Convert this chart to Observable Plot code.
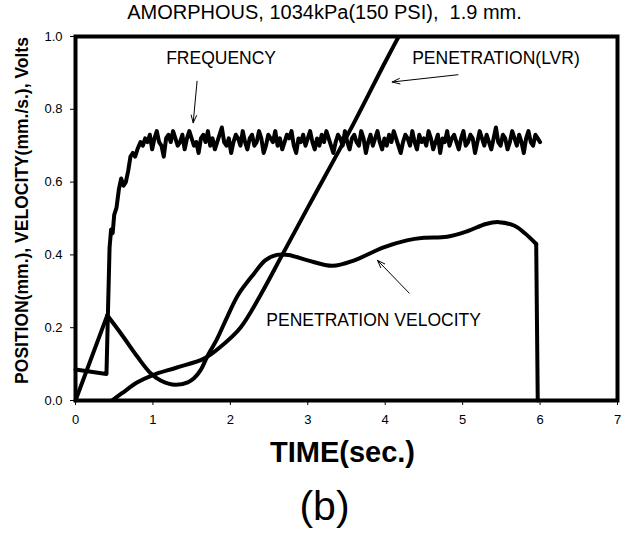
<!DOCTYPE html>
<html>
<head>
<meta charset="utf-8">
<script src="https://cdn.jsdelivr.net/npm/d3@7"></script>
<script src="https://cdn.jsdelivr.net/npm/@observablehq/plot@0.6"></script>
<style>
  html, body { margin: 0; padding: 0; background: white; }
</style>
</head>
<body>
<div id="chart"></div>
<script>
// ---- data ----
const titleText = "AMORPHOUS, 1034kPa(150 PSI), \u00a01.9 mm.";
const xLabel = "TIME(sec.)";
const yLabel = "POSITION(mm.), VELOCITY(mm./s.), Volts";
const caption = "(b)";
const xTicks = [0, 1, 2, 3, 4, 5, 6, 7];
const yTicks = [0, 0.2, 0.4, 0.6, 0.8, 1.0];

// Penetration velocity: straight rise, smooth body, vertical drop at end
const velRiseT = [0, 0.41];
const velRiseV = [0, 0.234];
const velT = [0.41, 0.6, 0.8, 0.97, 1.1, 1.29, 1.45, 1.53, 1.62, 1.70, 1.83, 1.96, 2.1, 2.3, 2.45, 2.6, 2.75, 3.0, 3.32, 3.6, 3.97, 4.28, 4.5, 4.8, 5.06, 5.3, 5.47, 5.67, 5.8, 5.95];
const velV = [0.234, 0.18, 0.12, 0.075, 0.055, 0.043, 0.05, 0.061, 0.085, 0.12, 0.17, 0.23, 0.29, 0.347, 0.385, 0.40, 0.40, 0.385, 0.37, 0.385, 0.42, 0.44, 0.447, 0.45, 0.465, 0.485, 0.49, 0.48, 0.46, 0.43];
const velDropT = [5.95, 5.97];
const velDropV = [0.43, 0];

// Penetration (LVR)
const lvrT = [0.47, 0.6, 0.8, 1.0, 1.3, 1.66, 1.87, 2.13, 2.39, 2.67, 3.0, 3.59, 4.0, 4.3];
const lvrV = [0, 0.02, 0.05, 0.07, 0.09, 0.115, 0.147, 0.20, 0.29, 0.40, 0.53, 0.76, 0.93, 1.05];

// Frequency: initial rise, then noisy plateau
const freqRiseT = [0, 0.40, 0.42, 0.44, 0.46, 0.48, 0.50, 0.53, 0.56, 0.59, 0.62, 0.65, 0.68, 0.71, 0.74, 0.77, 0.80, 0.84];
const freqRiseV = [0.085, 0.073, 0.25, 0.42, 0.47, 0.46, 0.51, 0.53, 0.58, 0.61, 0.59, 0.60, 0.63, 0.67, 0.68, 0.67, 0.69, 0.71];
const freqNoiseStart = 0.87;
const freqNoiseStep = 0.03;
const freqNoiseV = [
  0.70,0.72,0.71,0.73,0.69,0.72,0.74,0.71,0.70,0.67,0.72,0.73,0.71,0.74,0.72,0.70,0.71,0.73,0.69,0.72,
  0.74,0.72,0.70,0.71,0.68,0.72,0.73,0.71,0.74,0.70,0.72,0.69,0.71,0.73,0.75,0.71,0.70,0.72,0.68,0.71,
  0.73,0.72,0.70,0.74,0.71,0.69,0.72,0.73,0.70,0.71,0.74,0.72,0.68,0.70,0.73,0.72,0.71,0.74,0.70,0.72,
  0.69,0.71,0.73,0.72,0.74,0.70,0.68,0.72,0.71,0.73,0.70,0.72,0.74,0.71,0.69,0.72,0.70,0.73,0.71,0.74,
  0.72,0.70,0.68,0.71,0.73,0.72,0.70,0.74,0.71,0.69,0.72,0.73,0.71,0.70,0.74,0.72,0.68,0.71,0.73,0.70,
  0.72,0.74,0.71,0.69,0.72,0.70,0.73,0.71,0.74,0.72,0.70,0.68,0.71,0.73,0.72,0.70,0.74,0.71,0.69,0.73,
  0.71,0.72,0.70,0.74,0.72,0.69,0.71,0.73,0.68,0.72,0.71,0.74,0.70,0.72,0.73,0.71,0.69,0.72,0.74,0.70,
  0.71,0.73,0.72,0.68,0.71,0.74,0.72,0.70,0.73,0.71,0.69,0.72,0.75,0.71,0.70,0.73,0.72,0.69,0.71,0.74,
  0.72,0.70,0.73,0.71,0.68,0.72,0.74,0.71,0.70,0.73,0.72,0.71
];

const annotations = ["FREQUENCY", "PENETRATION(LVR)", "PENETRATION VELOCITY"];

// ---- build tables ----
const zip = (ts, vs) => ts.map((t, i) => ({t, v: vs[i]}));
const velRise = zip(velRiseT, velRiseV);
const vel = zip(velT, velV);
const velDrop = zip(velDropT, velDropV);
const lvr = zip(lvrT, lvrV);
const freq = zip(freqRiseT, freqRiseV).concat(
  freqNoiseV.map((v, i) => ({t: freqNoiseStart + i * freqNoiseStep, v}))
);

const font = "'Liberation Sans', Arial, Helvetica, sans-serif";
const lw = 4;

const chart = Plot.plot({
  width: 626,
  height: 535,
  marginLeft: 75,
  marginRight: 9,
  marginTop: 36,
  marginBottom: 135,
  style: {fontFamily: font, background: "white", color: "black", overflow: "visible"},
  x: {domain: [0, 7]},
  y: {domain: [0, 1]},
  marks: [
    Plot.axisX({ticks: xTicks, tickSize: 5, tickPadding: 9, fontSize: 13, label: null, tickFormat: d => String(d)}),
    Plot.axisY({ticks: yTicks, tickSize: 5, tickPadding: 8, fontSize: 13, label: null, tickFormat: d3.format(".1f")}),
    Plot.line(velRise, {x: "t", y: "v", stroke: "black", strokeWidth: lw}),
    Plot.line(vel, {x: "t", y: "v", stroke: "black", strokeWidth: lw, curve: "catmull-rom"}),
    Plot.line(velDrop, {x: "t", y: "v", stroke: "black", strokeWidth: lw}),
    Plot.line(lvr, {x: "t", y: "v", stroke: "black", strokeWidth: lw, curve: "catmull-rom", clip: true}),
    Plot.line(freq, {x: "t", y: "v", stroke: "black", strokeWidth: 4, strokeLinejoin: "round"}),
    Plot.frame({stroke: "black", strokeWidth: 4}),
    // annotation arrows
    Plot.arrow([annotations[0]], {x1: 1.57, y1: 0.877, x2: 1.52, y2: 0.763, stroke: "black", strokeWidth: 1, headLength: 12, headAngle: 40}),
    Plot.arrow([annotations[1]], {x1: 4.94, y1: 0.895, x2: 4.09, y2: 0.875, stroke: "black", strokeWidth: 1, headLength: 12, headAngle: 40}),
    Plot.arrow([annotations[2]], {x1: 4.31, y1: 0.295, x2: 3.9, y2: 0.385, stroke: "black", strokeWidth: 1, headLength: 12, headAngle: 40}),
    // annotation texts
    Plot.text([annotations[0]], {x: 1.88, y: 0.94, text: d => d, fontSize: 17.5, fill: "black"}),
    Plot.text([annotations[1]], {x: 5.43, y: 0.94, text: d => d, fontSize: 17.5, fill: "black"}),
    Plot.text([annotations[2]], {x: 3.85, y: 0.219, text: d => d, fontSize: 17.5, fill: "black"}),
    // title, axis labels, caption
    Plot.text([titleText], {frameAnchor: "top", textAnchor: "middle", lineAnchor: "middle", dx: -22, dy: -24, text: d => d, fontSize: 20, fill: "black"}),
    Plot.text([xLabel], {frameAnchor: "bottom", textAnchor: "middle", lineAnchor: "middle", dx: -4, dy: 52, text: d => d, fontSize: 29, fontWeight: "bold", fill: "black"}),
    Plot.text([caption], {frameAnchor: "bottom", textAnchor: "middle", lineAnchor: "middle", dx: -22, dy: 106, text: d => d, fontSize: 41, fill: "black"}),
    Plot.text([yLabel], {frameAnchor: "left", textAnchor: "middle", lineAnchor: "middle", dx: -53, dy: -8, rotate: -90, text: d => d, fontSize: 17.5, fontWeight: "bold", fill: "black"})
  ]
});
document.getElementById("chart").appendChild(chart);
</script>
</body>
</html>
